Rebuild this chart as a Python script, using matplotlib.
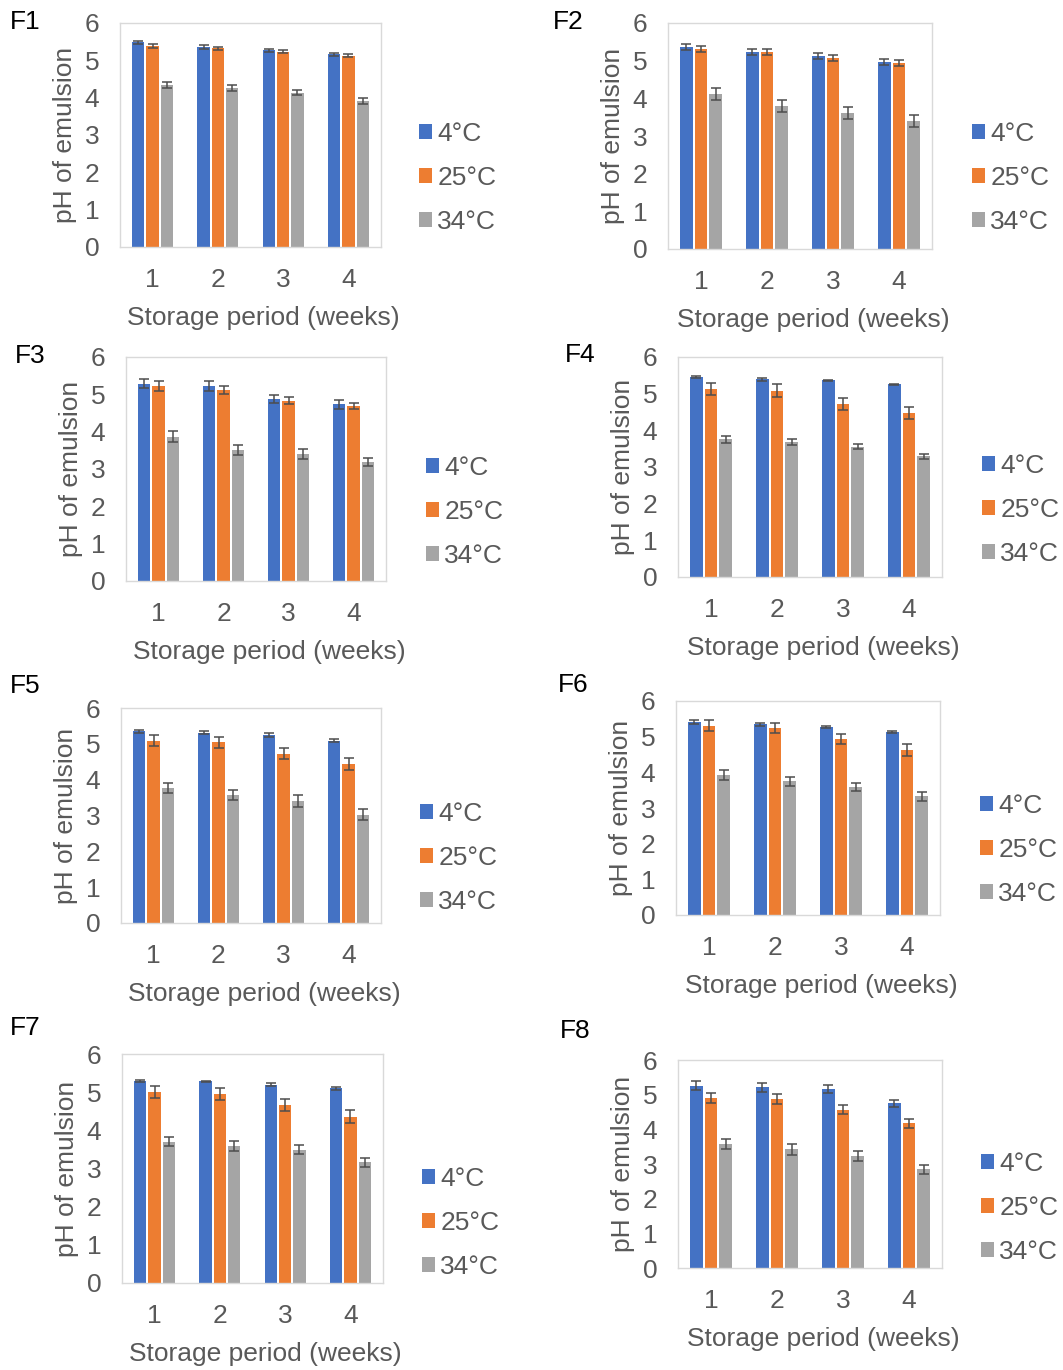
import numpy as np
import matplotlib
matplotlib.use("Agg")
import matplotlib.pyplot as plt

plt.rcParams['font.family'] = ['Liberation Sans', 'DejaVu Sans']

weeks = ['1', '2', '3', '4']
temps = ['4°C', '25°C', '34°C']
colors = ['#4472C4', '#ED7D31', '#A5A5A5']

# rows: 4°C, 25°C, 34°C ; columns: week 1..4
f1_mean = [[5.48, 5.36, 5.27, 5.16], [5.39, 5.32, 5.23, 5.12], [4.35, 4.25, 4.13, 3.92]]
f1_err = [[0.04, 0.05, 0.04, 0.04], [0.06, 0.05, 0.04, 0.04], [0.08, 0.08, 0.07, 0.08]]

f2_mean = [[5.37, 5.23, 5.12, 4.97], [5.32, 5.22, 5.08, 4.94], [4.11, 3.79, 3.60, 3.41]]
f2_err = [[0.08, 0.07, 0.08, 0.08], [0.08, 0.08, 0.08, 0.09], [0.16, 0.16, 0.16, 0.16]]

f3_mean = [[5.29, 5.22, 4.87, 4.73], [5.23, 5.12, 4.83, 4.69], [3.87, 3.51, 3.40, 3.18]]
f3_err = [[0.13, 0.13, 0.11, 0.12], [0.13, 0.10, 0.10, 0.09], [0.16, 0.14, 0.14, 0.11]]

f4_mean = [[5.45, 5.39, 5.36, 5.25], [5.13, 5.08, 4.72, 4.47], [3.75, 3.67, 3.55, 3.29]]
f4_err = [[0.03, 0.04, 0.02, 0.02], [0.17, 0.17, 0.17, 0.17], [0.09, 0.08, 0.07, 0.07]]

f5_mean = [[5.35, 5.31, 5.24, 5.09], [5.09, 5.04, 4.73, 4.44], [3.77, 3.58, 3.40, 3.02]]
f5_err = [[0.04, 0.04, 0.05, 0.04], [0.15, 0.15, 0.14, 0.16], [0.14, 0.14, 0.16, 0.15]]

f6_mean = [[5.41, 5.35, 5.27, 5.13], [5.31, 5.24, 4.93, 4.62], [3.92, 3.75, 3.59, 3.33]]
f6_err = [[0.05, 0.04, 0.03, 0.04], [0.15, 0.15, 0.14, 0.17], [0.14, 0.13, 0.11, 0.13]]

f7_mean = [[5.29, 5.28, 5.20, 5.10], [5.00, 4.95, 4.67, 4.36], [3.70, 3.59, 3.49, 3.16]]
f7_err = [[0.03, 0.02, 0.04, 0.04], [0.15, 0.16, 0.16, 0.16], [0.12, 0.12, 0.12, 0.12]]

f8_mean = [[5.26, 5.21, 5.16, 4.75], [4.91, 4.87, 4.56, 4.17], [3.57, 3.42, 3.24, 2.85]]
f8_err = [[0.12, 0.12, 0.12, 0.10], [0.14, 0.14, 0.13, 0.14], [0.14, 0.16, 0.14, 0.13]]

panel_names = ['F1', 'F2', 'F3', 'F4', 'F5', 'F6', 'F7', 'F8']
panel_means = [f1_mean, f2_mean, f3_mean, f4_mean, f5_mean, f6_mean, f7_mean, f8_mean]
panel_errs = [f1_err, f2_err, f3_err, f4_err, f5_err, f6_err, f7_err, f8_err]

# layout in pixels of the 1063x1370 canvas
W, H = 1063, 1370
boxes = [(120, 23, 381, 247), (668, 23, 932, 249),
         (126, 357, 386, 581), (678, 357, 942, 577),
         (121, 708, 381, 923), (676, 701, 940, 915),
         (122, 1054, 383, 1283), (678, 1060, 942, 1268)]
legend_pos = [(419, 178), (972, 178), (426, 512), (982, 510),
              (420, 858), (980, 850), (422, 1223), (981, 1208)]
label_pos = [(10, 22), (553, 22), (15, 356), (565, 355),
             (10, 686), (558, 685), (10, 1028), (560, 1031)]

FS = 19
TXT = '#595959'

fig = plt.figure(figsize=(W / 100, H / 100), dpi=100)

for name, means, errs, box, lpos, ppos in zip(panel_names, panel_means, panel_errs,
                                              boxes, legend_pos, label_pos):
    l, t, r, b = box
    ax = fig.add_axes([l / W, 1 - b / H, (r - l) / W, (b - t) / H])
    x = np.arange(len(weeks))
    handles = []
    for i in range(3):
        xs = x + (i - 1) * 0.22
        bars = ax.bar(xs, means[i], 0.19, color=colors[i], label=temps[i], zorder=2)
        ax.errorbar(xs, means[i], yerr=errs[i], fmt='none', ecolor='#4d4d4d',
                    elinewidth=1.1, capsize=3.5, capthick=1.1, zorder=3)
        handles.append(bars)
    ax.set_xlim(-0.5, 3.5)
    ax.set_ylim(0, 6)
    ax.set_xticks(x, weeks)
    ax.set_yticks(range(7))
    ax.tick_params(length=0, labelsize=FS, labelcolor=TXT)
    ax.tick_params(axis='x', pad=15)
    ax.tick_params(axis='y', pad=15)
    for sp in ax.spines.values():
        sp.set_color('#D9D9D9')
        sp.set_linewidth(1)

    bw, bh = r - l, b - t
    ax.set_ylabel('pH of emulsion', fontsize=FS, color=TXT)
    ax.yaxis.label.set_verticalalignment('center')
    ax.yaxis.set_label_coords(-55 / bw, 0.5)
    ax.set_xlabel('Storage period (weeks)', fontsize=FS, color=TXT)
    ax.xaxis.label.set_verticalalignment('center')
    ax.xaxis.set_label_coords(0.5 + 13 / bw, -71 / bh)

    ax.legend(handles=handles, loc='center left',
              bbox_to_anchor=(lpos[0] / W, 1 - lpos[1] / H), bbox_transform=fig.transFigure,
              frameon=False, fontsize=FS, labelcolor=TXT, handlelength=0.5, handleheight=0.5,
              handletextpad=0.2, borderpad=0, borderaxespad=0, labelspacing=0.75)

    fig.text(ppos[0] / W, 1 - ppos[1] / H, name, fontsize=FS, color='black',
             ha='left', va='center')

plt.savefig('out.png', dpi=100)
